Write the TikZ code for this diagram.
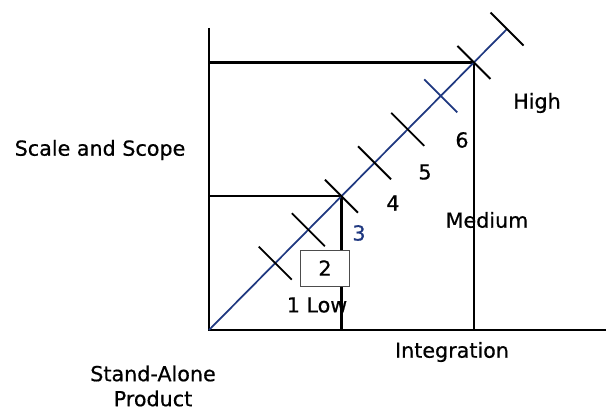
\documentclass[tikz,border=0pt]{standalone}
\usepackage{fontspec}
\setmainfont{DejaVu Sans}[FakeBold=0.6]
\usetikzlibrary{calc}
\definecolor{diagblue}{RGB}{31,56,128}

\begin{document}
\begin{tikzpicture}[
    x=0.75pt, y=0.75pt,
    axis/.style={line width=1.8pt, black},
    diag/.style={line width=1.3pt, diagblue},
    tick/.style={line width=1.4pt},
    lbl/.style={inner sep=0pt, font=\fontsize{15.5}{18.75}\selectfont},
    numbox/.style={draw=black!70, line width=0.7pt, fill=white,
                   minimum width=36.5pt, minimum height=27pt}
]
    \useasboundingbox (0,0) rectangle (606,410);

    % 坐标 (原点, 轴端, 对角线端点)
    \coordinate (O) at (209,80);
    \coordinate (Ytop) at (209,382);
    \coordinate (Xend) at (606,80);
    \coordinate (E) at (507,381);
    \coordinate (M) at ($(O)!4/9!(E)$); % 中等区域角点
    \coordinate (H) at ($(O)!8/9!(E)$); % 高区域角点

    % 1. 坐标轴
    \draw[axis] (Ytop) -- (O) -- (Xend);

    % 2. 中等与高区域的边框
    \draw[axis] (O |- M) -- (M) -- (M |- O);
    \draw[axis] (O |- H) -- (H) -- (H |- O);

    % 3. 对角线
    \draw[diag] (O) -- (E);

    % 4. 刻度
    \foreach \k/\col in {2/black, 3/black, 4/black, 5/black, 6/black,
                         7/diagblue, 8/black, 9/black} {
        \coordinate (t\k) at ($(O)!\k/9!(E)$);
        \draw[tick, \col] ($(t\k)+(-16.5,16.5)$) -- ($(t\k)+(16.5,-16.5)$);
    }

    % 5. 标签
    \node[lbl] (low)  at (317,105) {1 Low};
    \node[lbl, numbox] (two) at (325,142) {2};
    \node[lbl, text=diagblue] (three) at (359,177) {3};
    \node[lbl] (four) at (393,207) {4};
    \node[lbl] (five) at (425,238) {5};
    \node[lbl] (six)  at (462,270) {6};
    \node[lbl] (medium) at (487,190) {Medium};
    \node[lbl] (high) at (537,307) {High};

    % 轴标题
    \node[lbl] (scale) at (100,260) {Scale and Scope};
    \node[lbl] (integ) at (452,58) {Integration};
    \node[lbl, align=center] (stand) at (153,24) {Stand-Alone\\Product};

\end{tikzpicture}
\end{document}
